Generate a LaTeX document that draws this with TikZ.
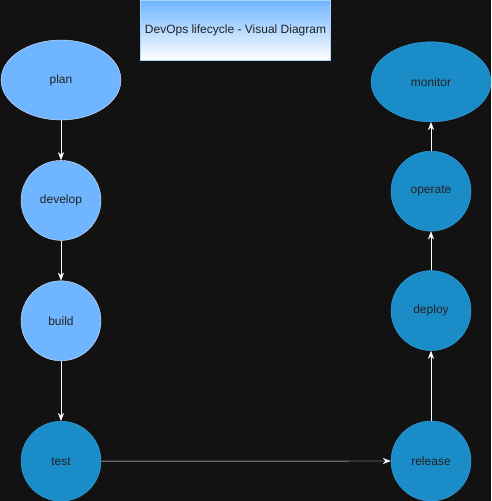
\documentclass[tikz,border=0pt]{standalone}
\usepackage{fontspec}
\setmainfont{Liberation Sans}
\usepackage{xcolor}
\usetikzlibrary{positioning, arrows.meta, shapes.geometric}

\definecolor{bgDark}{HTML}{121212}
\definecolor{stageLight}{HTML}{6FB5FF}
\definecolor{stageDark}{HTML}{1A8DC8}
\definecolor{rimDark}{HTML}{3AA5E6}
\definecolor{rimLight}{HTML}{D6E8FF}
\definecolor{labelGray}{HTML}{222222}

\begin{document}
\begin{tikzpicture}[x=1pt, y=-1pt,
				StageNode/.style={circle, minimum size=80pt, inner sep=0pt, thin, font=\fontsize{12}{14}\selectfont, text=labelGray},
				LightStage/.style={StageNode, draw=rimLight, fill=stageLight},
				DarkStage/.style={StageNode, draw=rimDark, fill=stageDark},
				OvalStage/.style={ellipse, minimum width=120pt, minimum height=80pt},
				FlowArrow/.style={draw=white, thin, -{Stealth[length=8pt, width=6pt]}}]

			% Background
			\fill[bgDark] (0,0) rectangle (491,501);
			\useasboundingbox (0,0) rectangle (491,501);

			% Title
			\node[rectangle, draw=stageLight!60!white, top color=stageLight, bottom color=white, minimum width=190pt, minimum height=60pt, font=\fontsize{12}{14}\selectfont, text=labelGray] (Title) at (235.5,30) {DevOps lifecycle - Visual Diagram};

			% Nodes
			\node[LightStage, OvalStage] (Plan) at (61,80) {plan};
			\node[LightStage] (Develop) [below=40pt of Plan] {develop};
			\node[LightStage] (Build) [below=40pt of Develop] {build};
			\node[DarkStage] (Test) [below=60pt of Build] {test};

			\node[DarkStage] (Release) at (431,461) {release};
			\node[DarkStage] (Deploy) [above=70pt of Release] {deploy};
			\node[DarkStage] (Operate) [above=39pt of Deploy] {operate};
			\node[DarkStage, OvalStage] (Monitor) [above=29pt of Operate] {monitor};

			% Lines
			\draw[FlowArrow] (Plan) to (Develop);
			\draw[FlowArrow] (Develop) to (Build);
			\draw[FlowArrow] (Build) to (Test);
			\draw[FlowArrow] (Test) to (Release);
			\draw[FlowArrow] (Release) to (Deploy);
			\draw[FlowArrow] (Deploy) to (Operate);
			\draw[FlowArrow] (Operate) to (Monitor);
		\end{tikzpicture}
\end{document}
